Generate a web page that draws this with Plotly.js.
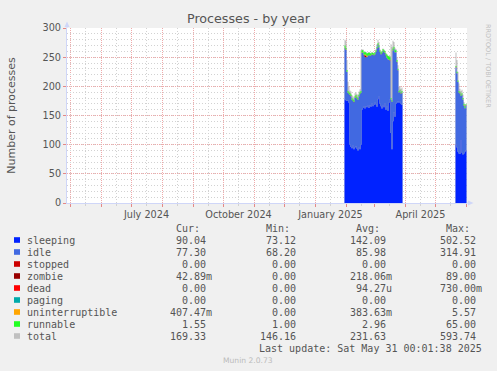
<!DOCTYPE html>
<html><head><meta charset="utf-8">
<script src="https://cdn.plot.ly/plotly-3.0.1.min.js"></script>
<style>html,body{margin:0;padding:0;background:#f0f0f0;} #chart{width:497px;height:371px;}</style>
</head><body><div id="chart"></div>
<script>
// ---- data (daily averages) ----
const block1Start = '2025-01-30';
const block1End = '2025-03-29';   // first day without data
const block2Start = '2025-05-21';
const block2End = '2025-06-01';
const N1 = 58, N2 = 11;

const sleeping = [178,176,175,176,172,100,96,94,98,92,95,97,93,90,96,92,100,
  160,163,165,162,166,164,168,163,167,165,170,166,168,172,169,165,178,182,170,166,162,168,164,170,160,165,158,172,178,
  120,92,140,155,148,170,172,174,172,175,170,168,
  100,95,88,85,84,108,86,83,85,88,90.04];
const idle = [87.4,86.4,49.4,12.9,14.9,84.9,86.9,82.9,76.9,80.9,84.9,84.9,85.9,86.9,86.9,94.9,88.9,
  97.4,94.4,88.4,88.5,83.5,86.3,84.4,90.4,85.4,87.9,84.9,87.9,84.9,82.9,89.9,99.9,92.9,84.9,88.9,88.9,94.9,92.9,94.9,86.9,92.9,83.4,88.4,73.4,66.4,
  57.4,81.4,121.4,109.4,110.4,88.4,69.4,53.4,17.4,16.4,17.4,21.4,
  132.4,127.4,119.4,104.4,103.4,75.4,99.4,94.4,81.4,74.4,77.30];
const stopped = [0,0,0,0,0,0,0,0,0,0,0,0,0,0,0,0,0,
  0,0,0,0,0,0,0,0,0,0,0,0,0,0,0,0,0,0,0,0,0,0,0,0,0,0,0,0,0,
  0,0,0,0,0,0,0,0,0,0,0,0,
  0,0,0,0,0,0,0,0,0,0,0];
const zombie = [0.2,0.2,0.2,0.2,0.2,0.2,0.2,0.2,0.2,0.2,0.2,0.2,0.2,0.2,0.2,0.2,0.2,
  0.2,0.2,0.2,3,3,0.2,0.2,0.2,0.2,0.2,0.2,0.2,0.2,0.2,0.2,0.2,0.2,0.2,0.2,0.2,0.2,0.2,0.2,0.2,0.2,0.2,0.2,0.2,0.2,
  0.2,0.2,0.2,0.2,0.2,0.2,0.2,0.2,0.2,0.2,0.2,0.2,
  0.2,0.2,0.2,0.2,0.2,0.2,0.2,0.2,0.2,0.2,0.04];
const dead = stopped.slice();
const paging = stopped.slice();
const uninterruptible = [0.4,0.4,0.4,0.4,0.4,0.4,0.4,0.4,0.4,0.4,0.4,0.4,0.4,0.4,0.4,0.4,0.4,
  0.4,0.4,0.4,1.5,1.5,1.5,0.4,0.4,0.4,0.4,0.4,0.4,0.4,0.4,0.4,0.4,0.4,0.4,0.4,0.4,0.4,0.4,0.4,0.4,0.4,0.4,0.4,0.4,0.4,
  0.4,0.4,0.4,0.4,0.4,0.4,0.4,0.4,0.4,0.4,0.4,0.4,
  0.4,0.4,0.4,0.4,0.4,0.4,0.4,0.4,0.4,0.4,0.41];
const runnable = [4,3,3,2.5,2.5,2.5,2.5,2.5,2.5,2.5,2.5,2.5,2.5,2.5,2.5,2.5,2.5,
  4,4,4,4,4,4,4,4,4,2.5,2.5,2.5,2.5,2.5,2.5,2.5,2.5,2.5,2.5,2.5,2.5,2.5,2.5,2.5,2.5,5,5,5,5,
  2,2,3,3,3,3,3,2,2,2,2,2,
  2,2,2,2,2,2,2,2,3,3,1.55];
const total = [280,278,245,208,200,193,191,185,183,181,188,190,187,185,191,195,262,
  263,263,259,260,259,257,258,259,258,257,259,258,257,259,263,272,280,276,263,259,261,265,263,261,257,255,253,252,252,
  272,268,278,276,266,264,250,236,199,200,196,198,
  258,245,225,205,196,192,194,186,173,169,169.33];

// axis ticks
const monthStarts = ['2024-05-01','2024-06-01','2024-07-01','2024-08-01','2024-09-01','2024-10-01','2024-11-01',
  '2024-12-01','2025-01-01','2025-02-01','2025-03-01','2025-04-01','2025-05-01','2025-06-01'];
const midMonths = ['2024-05-16','2024-06-16','2024-07-16','2024-08-16','2024-09-16','2024-10-16','2024-11-16',
  '2024-12-16','2025-01-16','2025-02-16','2025-03-16','2025-04-16','2025-05-16'];
const midMonthLabels = ['','','July 2024','','','October 2024','','','January 2025','','','April 2025',''];
const yTicks = [0,50,100,150,200,250,300];
const yTickLabels = ['0','50','100','150','200','250','300'];

// legend table
const legendNames = ['sleeping','idle','stopped','zombie','dead','paging','uninterruptible','runnable','total'];
const legendColors = ['#0022ff','#4169e1','#cc0000','#990000','#ff0000','#00aaaa','#ffa500','#22ff22','#c0c0c0'];
const curText = ['90.04','77.30','0.00','42.89m','0.00','0.00','407.47m','1.55','169.33'];
const minText = ['73.12','68.20','0.00','0.00','0.00','0.00','0.00','1.00','146.16'];
const avgText = ['142.09','85.98','0.00','218.06m','94.27u','0.00','383.63m','2.96','231.63'];
const maxText = ['502.52','314.91','0.00','89.00','730.00m','0.00','5.57','65.00','593.74'];
const lastUpdate = 'Last update: Sat May 31 00:01:38 2025';

// ---- build ----
function days(start, n) {
  const out = []; const t0 = Date.parse(start + 'T00:00:00Z');
  for (let i = 0; i < n; i++) out.push(new Date(t0 + i * 86400000).toISOString().slice(0, 10));
  return out;
}
const xs = [...days(block1Start, N1), block1End, ...days(block2Start, N2), block2End];
function series(a) { return [...a.slice(0, N1), 0, ...a.slice(N1), 0]; }

const stackSeries = [sleeping, idle, stopped, zombie, dead, paging, uninterruptible, runnable];
const traces = [{
  x: xs, y: series(total), type: 'scatter', mode: 'lines', fill: 'tozeroy',
  line: {width: 0, shape: 'hv', color: legendColors[8]}, fillcolor: legendColors[8],
  hoverinfo: 'skip', showlegend: false
}];
stackSeries.forEach((s, i) => traces.push({
  x: xs, y: series(s), type: 'scatter', mode: 'lines', stackgroup: 'procs',
  line: {width: 0, shape: 'hv', color: legendColors[i]}, fillcolor: legendColors[i],
  name: legendNames[i], hoverinfo: 'skip', showlegend: false
}));

// pixel -> paper helpers (plot area: x 67..467, y 28..203)
const L = 67, T = 28, W = 400, H = 175;
const px = x => (x - L) / W;
const py = y => (T + H - y) / H;

const mono = {family: 'DejaVu Sans Mono', size: 10, color: '#555555'};
const ann = [];
function txt(text, x, y, anchor, font) {
  ann.push({text: text, x: px(x), y: py(y), xref: 'paper', yref: 'paper', xanchor: anchor, yanchor: 'middle',
    showarrow: false, borderpad: 0, font: font});
}
const colEdges = [212.8, 302.8, 392.8, 482.8];
const headers = ['Cur:', 'Min:', 'Avg:', 'Max:'];
headers.forEach((h, j) => txt(h, colEdges[j] - 12.04, 228, 'right', mono));
const shapes = [];
const cols = [curText, minText, avgText, maxText];
legendNames.forEach((n, i) => {
  const y = 240 + 12 * i;
  shapes.push({type: 'rect', xref: 'paper', yref: 'paper', x0: px(14), x1: px(20), y0: py(y - 2.8), y1: py(y + 2.8),
    fillcolor: legendColors[i], line: {width: 0}});
  txt(n, 26, y, 'left', mono);
  cols.forEach((c, j) => {
    const v = c[i];
    const hasUnit = /[a-z]$/.test(v);
    txt(v, colEdges[j] - (hasUnit ? 0 : 6.02), y, 'right', mono);
  });
});
txt(lastUpdate, 483, 348, 'right', mono);
txt('Munin 2.0.73', 248, 360, 'center', {family: 'DejaVu Sans', size: 7.6, color: '#bbbbbb'});
ann.push({text: 'RRDTOOL / TOBI OETIKER', x: px(488), y: py(66), xref: 'paper', yref: 'paper', xanchor: 'center',
  yanchor: 'middle', textangle: 90, showarrow: false, borderpad: 0,
  font: {family: 'DejaVu Sans', size: 6.5, color: '#c0c0c0'}});

// axis arrows
shapes.push({type: 'path', xref: 'paper', yref: 'paper', fillcolor: '#CFD6F8', line: {width: 0},
  path: `M ${px(64.5)} ${py(27)} L ${px(67)} ${py(21.5)} L ${px(69.5)} ${py(27)} Z`});
shapes.push({type: 'line', xref: 'paper', yref: 'paper', x0: px(67), x1: px(67), y0: 1, y1: py(26),
  line: {color: '#CFD6F8', width: 1}});
shapes.push({type: 'path', xref: 'paper', yref: 'paper', fillcolor: '#CFD6F8', line: {width: 0},
  path: `M ${px(468)} ${py(200.5)} L ${px(473.5)} ${py(203)} L ${px(468)} ${py(205.5)} Z`});
shapes.push({type: 'line', xref: 'paper', yref: 'paper', x0: 1, x1: px(468.5), y0: 0, y1: 0,
  line: {color: '#CFD6F8', width: 1}});

const layout = {
  width: 497, height: 371,
  margin: {l: L, r: 497 - L - W, t: T, b: 371 - T - H, pad: 0},
  paper_bgcolor: '#f0f0f0', plot_bgcolor: '#ffffff',
  title: {text: 'Processes - by year', x: 0.5, xref: 'container', xanchor: 'center',
    y: 1 - 18.5 / 371, yref: 'container', yanchor: 'middle',
    font: {family: 'DejaVu Sans', size: 12.7, color: '#555555'}},
  showlegend: false,
  xaxis: {
    type: 'date', range: ['2024-04-27 12:00', '2025-06-01 12:00'], fixedrange: true,
    tickmode: 'array', tickvals: midMonths, ticktext: midMonthLabels,
    showgrid: true, gridcolor: '#d2d2d2', griddash: '1px,2px', gridwidth: 1,
    ticks: 'outside', ticklen: 2, tickcolor: '#d2d2d2', tickwidth: 1,
    minor: {tickmode: 'array', tickvals: monthStarts, showgrid: true, gridcolor: '#eeaaaa', griddash: '1px,1px',
      gridwidth: 1, ticks: 'outside', ticklen: 3, tickcolor: '#e48888', tickwidth: 1},
    showline: true, linecolor: '#CFD6F8', linewidth: 1, zeroline: false,
    tickfont: {family: 'DejaVu Sans', size: 9.7, color: '#555555'}
  },
  yaxis: {
    range: [0, 300], fixedrange: true,
    tickmode: 'array', tickvals: yTicks, ticktext: yTickLabels,
    showgrid: true, gridcolor: '#eeaaaa', griddash: '1px,1px', gridwidth: 1,
    ticks: 'outside', ticklen: 3, tickcolor: '#e48888', tickwidth: 1,
    minor: {dtick: 10, showgrid: true, gridcolor: '#d2d2d2', griddash: '1px,2px', gridwidth: 1},
    showline: true, linecolor: '#CFD6F8', linewidth: 1, zeroline: false,
    tickfont: {family: 'DejaVu Sans', size: 9.7, color: '#555555'},
    title: {text: 'Number of processes', standoff: 24, font: {family: 'DejaVu Sans', size: 11, color: '#555555'}}
  },
  annotations: ann,
  shapes: shapes
};
Plotly.newPlot('chart', traces, layout, {displayModeBar: false, staticPlot: true});
</script></body></html>
